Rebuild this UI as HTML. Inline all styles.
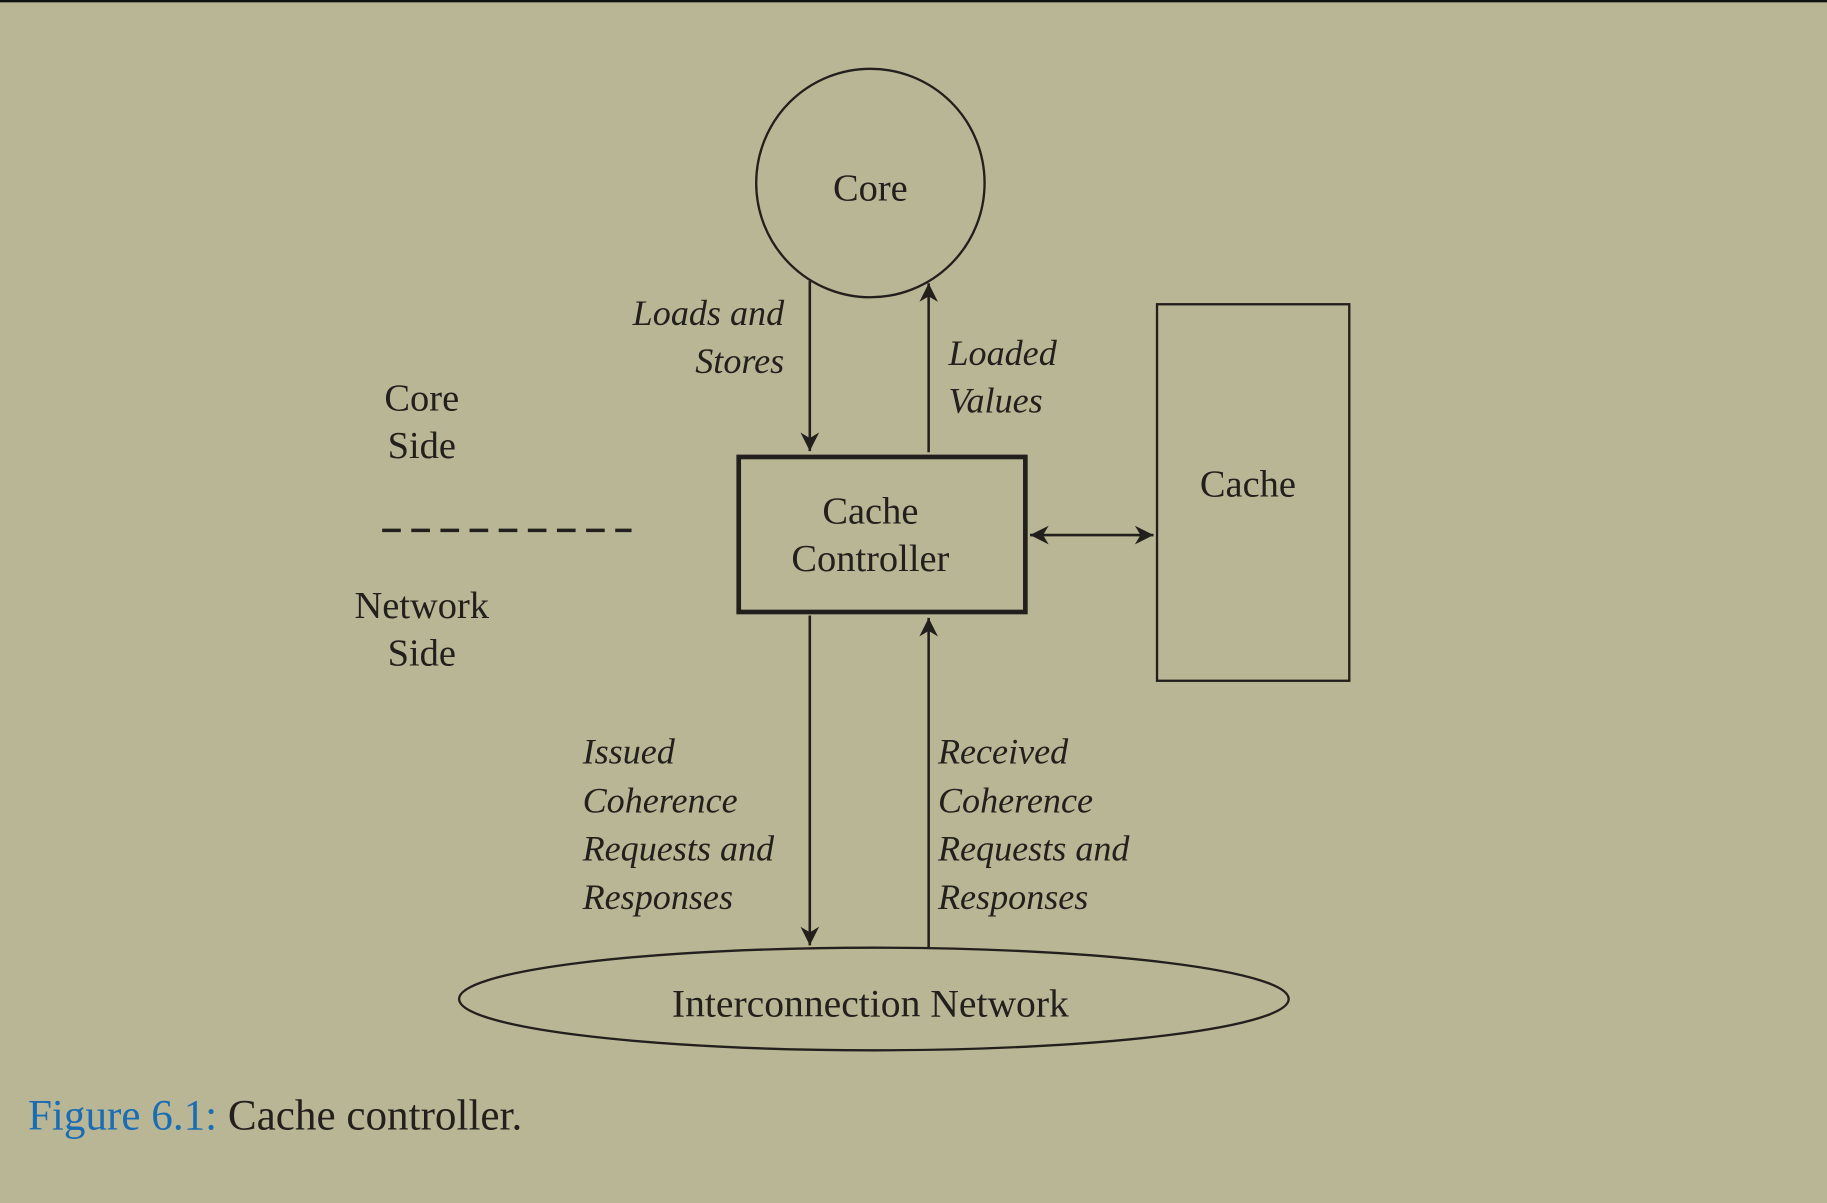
<!DOCTYPE html>
<html><head><meta charset="utf-8"><style>
html,body{margin:0;padding:0;background:#b9b695;}
svg{display:block;}
text{font-family:"Liberation Serif",serif;fill:#231f1c;}
.i{font-style:italic;}
</style></head><body>
<svg width="1827" height="1203" viewBox="0 0 1568 1032" preserveAspectRatio="none">
<defs><marker id="a" viewBox="0 0 10 10" refX="10" refY="5" markerWidth="22" markerHeight="16" markerUnits="userSpaceOnUse" orient="auto-start-reverse"><path d="M0,0 L10,5 L0,10 L3,5 Z" fill="#231f1c"/></marker></defs>
<rect width="1568" height="1032" fill="#b9b695"/>
<rect width="1568" height="2" fill="#111"/>
<g stroke="#231f1c" fill="none">
<circle cx="747" cy="157" r="98" stroke-width="2"/>
<rect x="634" y="392" width="246" height="133" stroke-width="4"/>
<rect x="993" y="261" width="165" height="323" stroke-width="2"/>
<ellipse cx="750" cy="857" rx="356" ry="44" stroke-width="2"/>
<line x1="328" y1="455" x2="542" y2="455" stroke-width="3" stroke-dasharray="16,9"/>
<g stroke-width="2.2">
<line x1="695" y1="241" x2="695" y2="387" marker-end="url(#a)"/>
<line x1="797" y1="388" x2="797" y2="243" marker-end="url(#a)"/>
<line x1="695" y1="528" x2="695" y2="811" marker-end="url(#a)"/>
<line x1="797" y1="813" x2="797" y2="530" marker-end="url(#a)"/>
<line x1="884" y1="459" x2="990" y2="459" marker-start="url(#a)" marker-end="url(#a)"/>
</g>
</g>
<g font-size="33" text-anchor="middle">
<text x="747" y="172">Core</text>
<text x="747" y="449">Cache</text>
<text x="747" y="490">Controller</text>
<text x="1071" y="426">Cache</text>
<text x="362" y="352">Core</text>
<text x="362" y="393">Side</text>
<text x="362" y="530">Network</text>
<text x="362" y="571">Side</text>
<text x="747" y="872" font-size="34">Interconnection Network</text>
</g>
<g font-size="31" class="i">
<text x="673" y="279" text-anchor="end" class="i">Loads and</text>
<text x="673" y="320" text-anchor="end" class="i">Stores</text>
<text x="814" y="313" class="i">Loaded</text>
<text x="814" y="354" class="i">Values</text>
<text x="500" y="655" class="i">Issued</text>
<text x="500" y="697" class="i">Coherence</text>
<text x="500" y="738" class="i">Requests and</text>
<text x="500" y="780" class="i">Responses</text>
<text x="805" y="655" class="i">Received</text>
<text x="805" y="697" class="i">Coherence</text>
<text x="805" y="738" class="i">Requests and</text>
<text x="805" y="780" class="i">Responses</text>
</g>
<text x="24" y="969" font-size="37"><tspan style="fill:#1a6db3">Figure 6.1:</tspan> Cache controller.</text>
</svg>
</body></html>
